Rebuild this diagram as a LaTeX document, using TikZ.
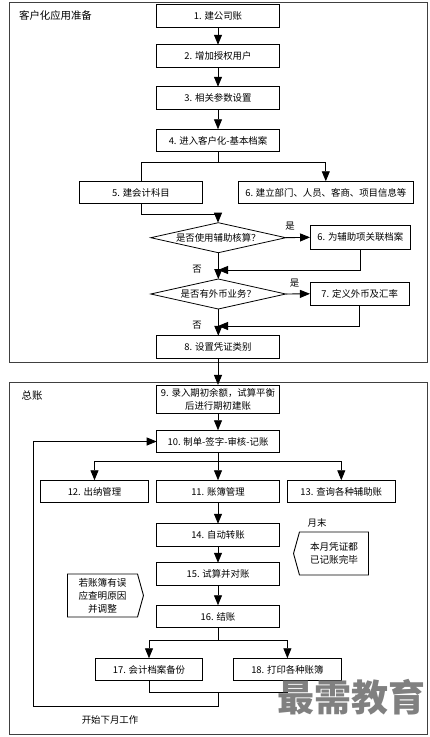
\documentclass[tikz,border=0pt]{standalone}
\usepackage{fontspec}
\setmainfont{Noto Sans CJK SC}
\usetikzlibrary{arrows.meta,shapes.geometric,shapes.symbols,positioning,calc}

\begin{document}
\begin{tikzpicture}[x=1pt,y=-1pt,
    stepbox/.style={draw, line width=0.9pt, minimum width=122.6pt, minimum height=22.5pt, inner sep=0pt, outer sep=0pt, align=center, font=\fontsize{9.4}{13}\selectfont},
    choice/.style={draw, line width=0.8pt, diamond, shape aspect=4.5, minimum width=135pt, minimum height=30pt, inner sep=0pt, outer sep=0pt, text height=7pt, text depth=0pt, font=\fontsize{9.4}{13}\selectfont},
    note/.style={draw, line width=0.9pt, signal, signal pointer angle=149, minimum height=43pt, inner sep=0pt, outer sep=0pt, align=center, font=\fontsize{9.6}{13}\selectfont},
    frame/.style={draw=black!75, line width=1pt},
    tag/.style={font=\fontsize{9.4}{12}\selectfont, inner sep=0pt},
    arr/.style={-{Triangle[length=10pt,width=8pt]}, line width=0.9pt},
    lin/.style={line width=0.9pt}
]
\useasboundingbox (0,0) rectangle (430,737);

% frames
\draw[frame] (9,2.5) rectangle (427,362.5);
\draw[frame] (9,382.5) rectangle (427,734);
\node[tag, font=\fontsize{10.4}{12}\selectfont] (title1) at (55.5,16) {客户化应用准备};
\node[tag, font=\fontsize{10.4}{12}\selectfont] (title2) at (32,396) {总账};

% preparation part
\node[stepbox] (b1) at (218,16) {1. 建公司账};
\node[stepbox] (b2) at (218,56) {2. 增加授权用户};
\node[stepbox] (b3) at (218,98) {3. 相关参数设置};
\node[stepbox] (b4) at (218,140.5) {4. 进入客户化-基本档案};
\node[stepbox, minimum width=123pt] (b5) at (141,192.5) {5. 建会计科目};
\node[stepbox, minimum width=175.5pt] (b6) at (325.8,192.5) {6. 建立部门、人员、客商、项目信息等};
\node[choice] (d1) at (218.3,237.7) {是否使用辅助核算？};
\node[stepbox, minimum width=100.5pt, minimum height=24.5pt] (b6a) at (360.3,237.3) {6. 为辅助项关联档案};
\node[choice] (d2) at (218.3,294) {是否有外币业务？};
\node[stepbox, minimum width=99.5pt] (b7) at (359.7,293.8) {7. 定义外币及汇率};
\node[stepbox] (b8) at (218,347) {8. 设置凭证类别};

\node[tag] (yes1) at (290,226) {是};
\node[tag] (no1) at (197,269) {否};
\node[tag] (yes2) at (294.5,283) {是};
\node[tag] (no2) at (197,325.5) {否};

\coordinate (j0) at (218,162);
\coordinate (j1) at (218,214);
\coordinate (j2) at (218,270);
\coordinate (j3) at (218,326);

\draw[arr] (b1) -- (b2);
\draw[arr] (b2) -- (b3);
\draw[arr] (b3) -- (b4);
\draw[lin] (b4.south) -- (j0);
\draw[lin] (j0) -| (b5.north);
\draw[arr] (j0) -| (b6.north);
\draw[lin] (b5.south) |- (j1);
\draw[arr] (j1) -- (j1 |- d1.north);
\draw[arr] (d1.east) -- (b6a.west);
\draw[arr] (d1.south) -- (d2.north);
\draw[arr] (b6a.south) |- (j2);
\draw[arr] (d2.east) -- (b7.west);
\draw[arr] (d2.south) -- (d2.south |- b8.north);
\draw[arr] (b7.south) |- (j3);

% general ledger part
\node[stepbox, minimum height=28.7pt] (b9) at (218,399.3) {9. 录入期初余额，试算平衡\\后进行期初建账};
\node[stepbox] (b10) at (218,441.5) {10. 制单-签字-审核-记账};
\node[stepbox, minimum width=107.5pt] (b12) at (94.5,491.5) {12. 出纳管理};
\node[stepbox] (b11) at (218,491.5) {11. 账簿管理};
\node[stepbox, minimum width=108.5pt] (b13) at (341.3,491.5) {13. 查询各种辅助账};
\node[stepbox] (b14) at (218,535) {14. 自动转账};
\node[stepbox] (b15) at (218,574) {15. 试算并对账};
\node[stepbox] (b16) at (218,616.5) {16. 结账};
\node[stepbox, minimum width=107.7pt] (b17) at (149,669.5) {17. 会计档案备份};
\node[stepbox, minimum width=108.7pt] (b18) at (287.4,669.5) {18. 打印各种账簿};

\node[note, signal to=west, minimum width=75pt] (n1) at (334,553.5) {本月凭证都\\已记账完毕};
\node[note, signal to=east, minimum width=76pt] (n2) at (102.5,595.5) {若账簿有误\\应查明原因\\并调整};
\node[tag] (month) at (317,523) {月末};
\node[tag] (next) at (110,720) {开始下月工作};

\coordinate (j4) at (218,461);
\coordinate (j5) at (218,640);
\coordinate (j6) at (218,692);
\coordinate (j7) at (218,706);
\coordinate (j8) at (33,706);

\draw[arr] (b8) -- (b9);
\draw[arr] (b9) -- (b10);
\draw[arr] (b10) -- (b11);
\draw[arr] (j4) -| (b12.north);
\draw[arr] (j4) -| (b13.north);
\draw[arr] (b11) -- (b14);
\draw[arr] (b14) -- (b15);
\draw[arr] (b15) -- (b16);
\draw[lin] (b16.south) -- (j5);
\draw[arr] (j5) -| (b17.north);
\draw[arr] (j5) -| (b18.north);
\draw[lin] (b17.south) |- (j6);
\draw[lin] (b18.south) |- (j6);
\draw[arr] (j6) -- (j7) -- (j8) |- (b10.west);

\node[inner sep=0pt, text=black!50, font=\fontsize{37}{37}\bfseries\selectfont] (mark) at (351.5,697) {最需教育};
\end{tikzpicture}
\end{document}
